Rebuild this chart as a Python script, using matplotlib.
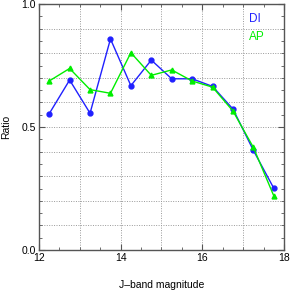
import matplotlib
matplotlib.use("Agg")
import matplotlib.pyplot as plt
from matplotlib.ticker import MultipleLocator, FormatStrFormatter

plt.rcParams['font.family'] = ['Liberation Sans', 'DejaVu Sans']

mag = [12.25, 12.75, 13.25, 13.75, 14.25, 14.75, 15.25, 15.75, 16.25, 16.75, 17.25, 17.75]
di = [0.554, 0.691, 0.556, 0.858, 0.668, 0.772, 0.696, 0.696, 0.665, 0.573, 0.405, 0.251]
ap = [0.687, 0.738, 0.652, 0.637, 0.802, 0.710, 0.732, 0.687, 0.662, 0.565, 0.417, 0.220]

blue = '#2020ff'
green = '#00ee00'

fig = plt.figure(figsize=(2.91, 2.91), dpi=100)
ax = fig.add_axes([39/291, 41/291, 245/291, 246/291])

ax.plot(mag, di, '-o', color=blue, lw=1.0, ms=3.5, zorder=3)
ax.plot(mag, ap, '-^', color=green, lw=1.0, ms=3.5, zorder=3)

ax.set_xlim(12, 18)
ax.set_ylim(0, 1.0)
ax.xaxis.set_major_locator(MultipleLocator(2))
ax.xaxis.set_minor_locator(MultipleLocator(0.5))
ax.yaxis.set_major_locator(MultipleLocator(0.5))
ax.yaxis.set_minor_locator(MultipleLocator(0.05))
for v in [13, 14, 15, 16, 17]:
    ax.axvline(v, color='#999999', lw=0.7, ls=(0, (1, 1.5)), zorder=1)
for v in [0.1, 0.2, 0.3, 0.4, 0.5, 0.6, 0.7, 0.8, 0.9]:
    ax.axhline(v, color='#999999', lw=0.7, ls=(0, (1, 1.5)), zorder=1)

ax.tick_params(which='both', direction='in', top=True, right=True, labelsize=7.5, color='#555555', pad=2.5)
ax.tick_params(which='major', length=4)
ax.tick_params(which='minor', length=2)
ax.yaxis.set_major_formatter(FormatStrFormatter('%.1f'))
for s in ax.spines.values():
    s.set_color('#555555')
    s.set_linewidth(1.0)

ax.set_xlabel('J\u2013band magnitude', fontsize=7.5, labelpad=12)
ax.set_ylabel('Ratio', fontsize=7.5, labelpad=7)

ax.text(0.857, 0.939, 'DI', color=blue, fontsize=8.5, transform=ax.transAxes, ha='left', va='center')
ax.text(0.857, 0.866, 'AP', color=green, fontsize=8.5, transform=ax.transAxes, ha='left', va='center')

fig.savefig('out.png', dpi=100)
